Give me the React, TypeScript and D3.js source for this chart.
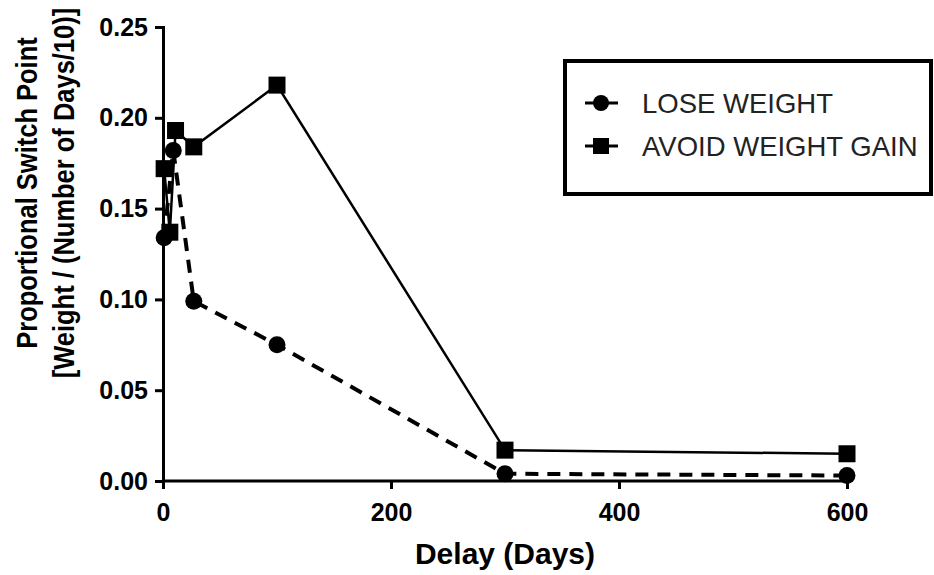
import React, { useEffect, useRef } from 'react';
import * as d3 from 'd3';

// delays (days) and switch points
const loseDelays = [1, 9, 27, 100, 300, 600];
const loseValues = [0.134, 0.182, 0.099, 0.075, 0.004, 0.003];
const avoidDelays = [1, 6, 11, 27, 100, 300, 600];
const avoidValues = [0.172, 0.137, 0.193, 0.184, 0.218, 0.017, 0.015];

const xTicks = [0, 200, 400, 600];
const yTicks = [0, 0.05, 0.1, 0.15, 0.2, 0.25];
const legendLabels = ['LOSE WEIGHT', 'AVOID WEIGHT GAIN'];

const W = 934;
const H = 575;

export default function App() {
  const ref = useRef<SVGSVGElement>(null);

  useEffect(() => {
    const svg = d3.select(ref.current);
    svg.selectAll('*').remove();

    const x = d3.scaleLinear().domain([0, 600]).range([163, 847]);
    const y = d3.scaleLinear().domain([0, 0.25]).range([481, 27]);
    const font = 'Liberation Sans, Arial, sans-serif';

    // axes
    const xAxis = svg
      .append('g')
      .attr('transform', `translate(0,${y(0)})`)
      .call(d3.axisBottom(x).tickValues(xTicks).tickFormat(d3.format('d')).tickSizeOuter(0).tickSize(8).tickPadding(14));
    xAxis.select('.domain').attr('d', `M${x(0)},0H${x(600) + 3}`);

    const yAxis = svg
      .append('g')
      .attr('transform', `translate(${x(0)},0)`)
      .call(d3.axisLeft(y).tickValues(yTicks).tickFormat(d3.format('.2f')).tickSizeOuter(0).tickSize(8).tickPadding(7));

    [xAxis, yAxis].forEach((g) => {
      g.selectAll('path, line').attr('stroke', '#000').attr('stroke-width', 3);
      g.selectAll('text')
        .attr('fill', '#000')
        .style('font-family', font)
        .style('font-weight', 'bold')
        .style('font-size', '25px');
    });

    // axis titles
    svg
      .append('text')
      .attr('x', 505)
      .attr('y', 564)
      .attr('text-anchor', 'middle')
      .style('font-family', font)
      .style('font-weight', 'bold')
      .style('font-size', '30px')
      .text('Delay (Days)');

    // y title is drawn narrower along its length, like the original
    const yl = svg.append('g').attr('transform', 'translate(0,193) rotate(-90) scale(0.85,1)');
    yl.append('text')
      .attr('y', 37)
      .attr('text-anchor', 'middle')
      .style('font-family', font)
      .style('font-weight', 'bold')
      .style('font-size', '30px')
      .text('Proportional Switch Point');
    yl.append('text')
      .attr('y', 74)
      .attr('text-anchor', 'middle')
      .style('font-family', font)
      .style('font-weight', 'bold')
      .style('font-size', '30px')
      .text('[Weight / (Number of Days/10)]');

    const lose = loseDelays.map((d, i) => [d, loseValues[i]] as [number, number]);
    const avoid = avoidDelays.map((d, i) => [d, avoidValues[i]] as [number, number]);
    const line = d3
      .line<[number, number]>()
      .x((d) => x(d[0]))
      .y((d) => y(d[1]));

    svg
      .append('path')
      .attr('d', line(avoid))
      .attr('fill', 'none')
      .attr('stroke', '#000')
      .attr('stroke-width', 2.5);

    svg
      .append('path')
      .attr('d', line(lose))
      .attr('fill', 'none')
      .attr('stroke', '#000')
      .attr('stroke-width', 4)
      .attr('stroke-dasharray', '13,9');

    svg
      .selectAll('.sq')
      .data(avoid)
      .enter()
      .append('rect')
      .attr('x', (d) => x(d[0]) - 8.5)
      .attr('y', (d) => y(d[1]) - 8.5)
      .attr('width', 17)
      .attr('height', 17)
      .attr('fill', '#000');

    svg
      .selectAll('.ci')
      .data(lose)
      .enter()
      .append('circle')
      .attr('cx', (d) => x(d[0]))
      .attr('cy', (d) => y(d[1]))
      .attr('r', 8.5)
      .attr('fill', '#000');

    // legend
    const lg = svg.append('g');
    lg.append('rect')
      .attr('x', 565)
      .attr('y', 61)
      .attr('width', 366)
      .attr('height', 133)
      .attr('fill', '#fff')
      .attr('stroke', '#000')
      .attr('stroke-width', 4);

    legendLabels.forEach((label, i) => {
      const cy = 103 + i * 43;
      lg.append('line')
        .attr('x1', 585)
        .attr('x2', 618)
        .attr('y1', cy)
        .attr('y2', cy)
        .attr('stroke', '#000')
        .attr('stroke-width', 3);
      if (i === 0) {
        lg.append('circle').attr('cx', 601).attr('cy', cy).attr('r', 8).attr('fill', '#000');
      } else {
        lg.append('rect').attr('x', 593).attr('y', cy - 8).attr('width', 16).attr('height', 16).attr('fill', '#000');
      }
      lg.append('text')
        .attr('x', 642)
        .attr('y', cy + 10)
        .style('font-family', font)
        .style('font-size', '27.5px')
        .attr('fill', '#222')
        .text(label);
    });
  }, []);

  return (
    <svg
      ref={ref}
      width={W}
      height={H}
      style={{ position: 'absolute', left: 0, top: 0, background: '#fff' }}
    />
  );
}
